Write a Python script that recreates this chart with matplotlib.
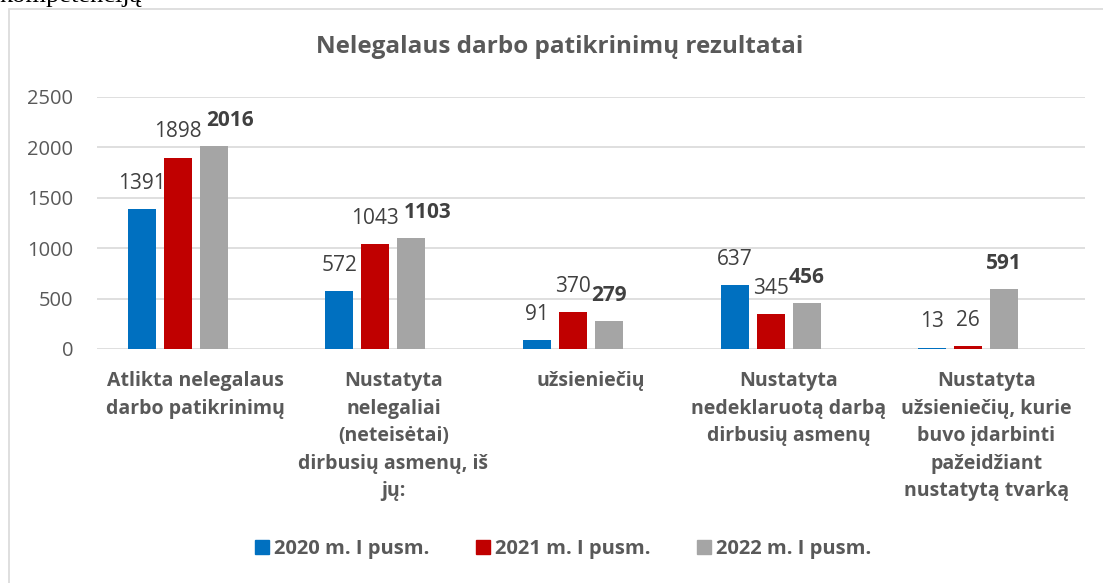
import matplotlib
matplotlib.use("Agg")
import matplotlib.pyplot as plt
import numpy as np
from matplotlib.patches import Rectangle
from matplotlib.lines import Line2D

plt.rcParams['font.family'] = ['Open Sans', 'DejaVu Sans']

# data
categories = [
    "Atlikta nelegalaus\ndarbo patikrinimų",
    "Nustatyta\nnelegaliai\n(neteisėtai)\ndirbusių asmenų, iš\njų:",
    "užsieniečių",
    "Nustatyta\nnedeklaruotą darbą\ndirbusių asmenų",
    "Nustatyta\nužsieniečių, kurie\nbuvo įdarbinti\npažeidžiant\nnustatytą tvarką",
]
series_names = ["2020 m. I pusm.", "2021 m. I pusm.", "2022 m. I pusm."]
values_2020 = [1391, 572, 91, 637, 13]
values_2021 = [1898, 1043, 370, 345, 26]
values_2022 = [2016, 1103, 279, 456, 591]
yticks = [0, 500, 1000, 1500, 2000, 2500]

colors = ["#0070C0", "#C00000", "#A5A5A5"]
label_color = "#404040"
axis_color = "#595959"
grid_color = "#D9D9D9"

fig = plt.figure(figsize=(11.03, 5.83), dpi=100)
ax = fig.add_axes([97 / 1103, 1 - 349 / 583, 988 / 1103, 252 / 583])

# frame around the chart (cut by page)
fig.patches.append(Rectangle((8.5 / 1103, -0.05), 1.1, 1 - 8.5 / 583 + 0.05,
                             transform=fig.transFigure, fill=False,
                             edgecolor=grid_color, lw=1.2))
# fragment of document text above the chart
fig.text(0.0, 1 - 2 / 583, "kompetenciją", family="Liberation Serif",
         fontsize=19, va="baseline", ha="left", color="black")

x = np.arange(len(categories))
step = 0.182
width = 0.142
all_vals = [values_2020, values_2021, values_2022]
for i, vals in enumerate(all_vals):
    pos = x + (i - 1.5) * step
    ax.bar(pos, vals, width=width, color=colors[i], zorder=3)
    for j, (p, v) in enumerate(zip(pos, vals)):
        dx = 0
        if i == 2 and j in (0, 1):
            dx = 12
        ax.annotate(str(v), (p, v), xytext=(dx, 18.5), textcoords="offset points",
                    ha="center", va="center", fontsize=15, color=label_color,
                    fontweight="bold" if i == 2 else "normal")

ax.set_xlim(-0.5, 4.5)
ax.set_ylim(0, 2500)
ax.set_yticks(yticks)
ax.yaxis.grid(True, color=grid_color, lw=1.2, zorder=0)
ax.set_axisbelow(True)
for s in ax.spines.values():
    s.set_visible(False)
ax.tick_params(axis="y", length=0, pad=17, labelsize=14.5, labelcolor=axis_color)
ax.set_xticks(x)
ax.set_xticklabels(categories, fontsize=14, fontweight="bold", color=axis_color,
                   linespacing=1.5)
ax.tick_params(axis="x", length=0, pad=16)

fig.text(560 / 1103, 1 - 47 / 583, "Nelegalaus darbo patikrinimų rezultatai",
         ha="center", va="center", fontsize=17.5, fontweight="bold", color=axis_color)

handles = [Line2D([0], [0], marker="s", linestyle="none", markersize=10,
                  markerfacecolor=c, markeredgecolor=c) for c in colors]
leg = fig.legend(handles, series_names, loc="center",
                 bbox_to_anchor=(563 / 1103, 1 - 549 / 583), ncol=3, frameon=False,
                 handletextpad=0.25, columnspacing=2.3, handlelength=0.7,
                 prop={"size": 14.5, "weight": "bold"})
for t in leg.get_texts():
    t.set_color(axis_color)

fig.savefig("out.png", dpi=100)
